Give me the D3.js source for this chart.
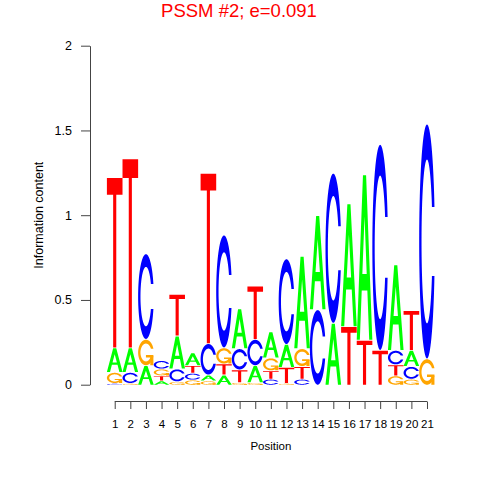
<!DOCTYPE html>
<html>
<head>
<meta charset="utf-8">
<script src="https://cdn.jsdelivr.net/npm/d3@7"></script>
<style>
  body { margin: 0; background: #fff; }
  text { font-family: "Liberation Sans", Arial, sans-serif; }
</style>
</head>
<body>
<div id="logo"></div>
<script>
// positions along the motif
const positions = [1,2,3,4,5,6,7,8,9,10,11,12,13,14,15,16,17,18,19,20,21];
// letter heights (bits) per position
const heightsA = [0.14,0.14,0.11,0.02,0.19,0.07,0.03,0.055,0.23,0.095,0.15,0.13,0.54,0.55,0.36,0.72,0.97,0,0.50,0.09,0];
const heightsC = [0.005,0.06,0.50,0.045,0.07,0.035,0.18,0.66,0.12,0.15,0.03,0.50,0.03,0.44,0.88,0,0,1.21,0.08,0.07,1.38];
const heightsG = [0.06,0.005,0.15,0.035,0.015,0.025,0.02,0.09,0.01,0.01,0.07,0.005,0.10,0,0,0,0,0,0.05,0.03,0.15];
const heightsT = [1.0,1.11,0,0.025,0.24,0.04,1.0,0.06,0.07,0.31,0.045,0.09,0.07,0,0,0.34,0.26,0.20,0.06,0.23,0];
const yTicks = [0, 0.5, 1, 1.5, 2];
const title = "PSSM #2; e=0.091";

const letterColor = { A: "#00ff00", C: "#0000ff", G: "#ffa500", T: "#ff0000" };
const gap = 0.005;

const width = 480, height = 480;
const svg = d3.select("#logo").append("svg")
    .attr("width", width)
    .attr("height", height);

const x = d3.scaleLinear().domain([0.5, 21.5]).range([106.9, 434.8]);
const y = d3.scaleLinear().domain([0, 2]).range([384.7, 45.7]);

// letter outlines in a unit box (y up), same construction as seqLogo
function ring() {
    const n = 60;
    const a1 = d3.range(n).map(i => 0.3 + Math.PI / 2 + (Math.PI / 2 - 0.3) * i / (n - 1));
    const a2 = d3.range(n).map(i => Math.PI + (Math.PI / 2) * i / (n - 1));
    const outerL = a1.concat(a2).map(a => [0.5 + 0.5 * Math.sin(a), 0.5 + 0.5 * Math.cos(a)]);
    const hMax = d3.max(a1, a => 0.5 + 0.5 * Math.cos(a));
    const inner1 = a1.map(a => [0.5 + 0.35 * Math.sin(a), 0.5 + 0.35 * Math.cos(a)]).filter(p => p[1] <= hMax);
    inner1[0] = [inner1[0][0], hMax];
    const innerL = inner1.concat(a2.map(a => [0.5 + 0.35 * Math.sin(a), 0.5 + 0.35 * Math.cos(a)]));
    const outer = outerL.concat(outerL.slice().reverse().map(p => [p[0], 1 - p[1]]));
    const inner = innerL.concat(innerL.slice().reverse().map(p => [p[0], 1 - p[1]]));
    return outer.concat(inner.reverse());
}
const r1 = 0.5 + 0.5 * Math.cos(0.3);
const shapes = {
    A: [[[[0,0],[0.4,1],[0.6,1],[1,0],[0.8,0],[0.68,0.3],[0.32,0.3],[0.2,0]],
         [[0.36,0.4],[0.5,0.75],[0.64,0.4]]]],
    C: [[ring()]],
    G: [[ring()], [[[r1,0.4],[0.5,0.4],[0.5,0.3],[r1-0.2,0.3],[r1-0.2,0],[r1,0]]]],
    T: [[[[0,1],[1,1],[1,0.9],[0.6,0.9],[0.6,0],[0.4,0],[0.4,0.9],[0,0.9]]]]
};

function letterPath(polys, x0, x1, v0, v1) {
    return polys.map(poly => "M" + poly.map(p =>
        (x0 + p[0] * (x1 - x0)).toFixed(2) + "," + y(v0 + p[1] * (v1 - v0)).toFixed(2)
    ).join("L") + "Z").join("");
}

// build stacks: smallest letter at the bottom
const stacks = positions.map((pos, i) => {
    const items = [
        { letter: "A", h: heightsA[i] },
        { letter: "C", h: heightsC[i] },
        { letter: "G", h: heightsG[i] },
        { letter: "T", h: heightsT[i] }
    ].filter(d => d.h > 0).sort((a, b) => a.h - b.h);
    let base = 0;
    items.forEach(d => {
        d.pos = pos;
        d.y0 = base;
        d.y1 = base + d.h;
        base = d.y1 + gap;
    });
    return items;
});

const letters = svg.append("g").attr("class", "letters");
stacks.flat().forEach(d => {
    shapes[d.letter].forEach(polys => {
        letters.append("path")
            .attr("d", letterPath(polys, x(d.pos - 0.5), x(d.pos + 0.5), d.y0, d.y1))
            .attr("fill", letterColor[d.letter])
            .attr("fill-rule", "evenodd");
    });
});

// y axis
const yAxis = svg.append("g")
    .attr("transform", "translate(90,0)")
    .call(d3.axisLeft(y).tickValues(yTicks).tickSize(9).tickSizeOuter(0).tickPadding(9)
        .tickFormat(d3.format("")));
yAxis.selectAll("line, path").attr("stroke", "#444");
yAxis.selectAll("text").attr("font-size", 12.5).attr("fill", "#000")
    .attr("font-family", "Liberation Sans, Arial, sans-serif");

// x axis
const xAxis = svg.append("g")
    .attr("transform", "translate(0,401.5)")
    .call(d3.axisBottom(x).tickValues(positions).tickSize(7.5).tickPadding(10.5));
xAxis.select(".domain").remove();
xAxis.append("line")
    .attr("x1", x(positions[0])).attr("x2", x(positions[positions.length - 1]))
    .attr("stroke", "#444");
xAxis.selectAll(".tick line").attr("stroke", "#444");
xAxis.selectAll("text").attr("font-size", 11.5).attr("fill", "#000")
    .attr("font-family", "Liberation Sans, Arial, sans-serif");

// labels
svg.append("text")
    .attr("x", (x(1) + x(21)) / 2).attr("y", 450)
    .attr("text-anchor", "middle")
    .attr("font-size", 11.5)
    .text("Position");

svg.append("text")
    .attr("transform", "translate(43," + (y(0) + y(2)) / 2 + ") rotate(-90)")
    .attr("text-anchor", "middle")
    .attr("font-size", 12.5)
    .text("Information content");

svg.append("text")
    .attr("x", 239).attr("y", 17)
    .attr("text-anchor", "middle")
    .attr("font-size", 18.5)
    .attr("fill", "#ff0000")
    .text(title);
</script>
</body>
</html>
